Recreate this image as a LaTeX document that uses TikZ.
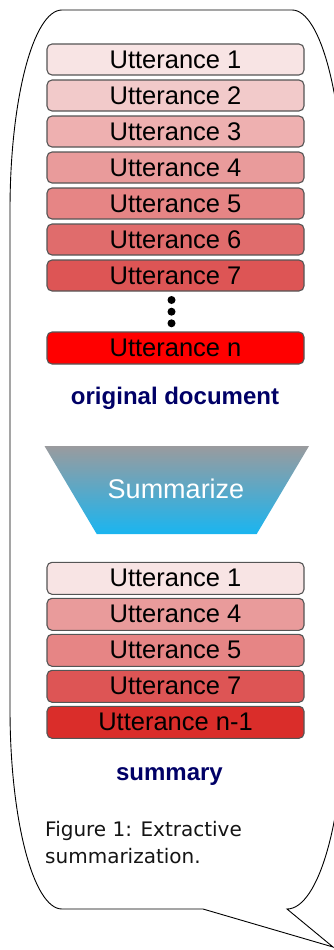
\documentclass[tikz,border=0pt]{standalone}
\usepackage{fontspec}
\setmainfont{Liberation Sans}
\newfontfamily\capfont{DejaVu Sans}
\usetikzlibrary{shapes.geometric}
\definecolor{navy}{RGB}{0,0,102}
\definecolor{bdr}{RGB}{85,85,85}
\definecolor{uA}{RGB}{248,228,228}
\definecolor{uB}{RGB}{242,202,202}
\definecolor{uC}{RGB}{238,176,176}
\definecolor{uD}{RGB}{233,155,155}
\definecolor{uE}{RGB}{230,133,133}
\definecolor{uF}{RGB}{224,108,108}
\definecolor{uG}{RGB}{221,85,85}
\definecolor{uN}{RGB}{255,0,0}
\definecolor{uM}{RGB}{218,45,42}
\definecolor{fgray}{RGB}{154,155,158}
\definecolor{fblue}{RGB}{26,181,240}
\begin{document}
\begin{tikzpicture}[x=1pt,y=1pt,
  utt/.style={draw=bdr,line width=1.1pt,rounded corners=5pt,minimum width=257pt,minimum height=31pt,inner sep=0pt,font=\fontsize{25.5}{27}\selectfont,text=black},
  lbl/.style={font=\fontsize{24}{26}\selectfont\bfseries,text=navy,inner sep=0pt,anchor=base},
  dotc/.style={circle,fill=black,minimum size=8pt,inner sep=0pt}]
\useasboundingbox (0,0) rectangle (334,-950);
% speech bubble
\draw[line width=0.9pt] (62,-10) -- (292,-10)
  arc[start angle=90,end angle=0,x radius=52,y radius=200] -- (344,-709)
  arc[start angle=0,end angle=-90,x radius=57,y radius=200]
  -- (333,-947) -- (203,-909) -- (62,-909)
  arc[start angle=270,end angle=180,x radius=52,y radius=200] -- (10,-210)
  arc[start angle=180,end angle=90,x radius=52,y radius=200] -- cycle;
% original document
\node[utt,fill=uA] (o1) at (175.5,-59.5) {Utterance 1};
\node[utt,fill=uB] (o2) at (175.5,-95.5) {Utterance 2};
\node[utt,fill=uC] (o3) at (175.5,-131.5) {Utterance 3};
\node[utt,fill=uD] (o4) at (175.5,-167.5) {Utterance 4};
\node[utt,fill=uE] (o5) at (175.5,-203.5) {Utterance 5};
\node[utt,fill=uF] (o6) at (175.5,-239.5) {Utterance 6};
\node[utt,fill=uG] (o7) at (175.5,-275.5) {Utterance 7};
\node[dotc] (d1) at (171.5,-300) {};
\node[dotc] (d2) at (171.5,-311.7) {};
\node[dotc] (d3) at (171.5,-323.3) {};
\node[utt,fill=uN,minimum height=32pt] (on) at (175.5,-348) {Utterance n};
\node[lbl] (orig) at (175,-404) {original document};
% funnel
\shade[top color=fgray,bottom color=fblue] (44.5,-446) -- (309,-446) -- (256.7,-534) -- (96.7,-534) -- cycle;
\node[font=\fontsize{27}{29}\selectfont,text=white,inner sep=0pt] (summ) at (176,-489) {Summarize};
% summary
\node[utt,fill=uA,minimum height=32pt] (s1) at (175.5,-578.3) {Utterance 1};
\node[utt,fill=uD,minimum height=32pt] (s4) at (175.5,-614.3) {Utterance 4};
\node[utt,fill=uE,minimum height=32pt] (s5) at (175.5,-650.3) {Utterance 5};
\node[utt,fill=uG,minimum height=32pt] (s7) at (175.5,-686.3) {Utterance 7};
\node[utt,fill=uM,minimum height=32pt] (sn) at (175.5,-722.3) {Utterance n-1};
\node[lbl] (sumlbl) at (169.5,-780) {summary};
% caption
\node[font=\capfont\fontsize{20}{27}\selectfont,text={rgb,255:red,20;green,20;blue,20},anchor=base west,inner sep=0pt,align=left] (cap) at (45,-863) {Figure 1: Extractive\\summarization.};
\end{tikzpicture}
\end{document}
